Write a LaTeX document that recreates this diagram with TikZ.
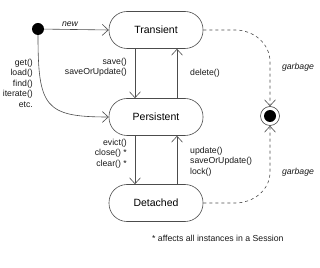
\documentclass[tikz,border=0pt]{standalone}
\usepackage{fontspec}
\setmainfont{Liberation Sans}
\usetikzlibrary{arrows.meta}
\tikzset{
  state/.style={draw=black!70,line width=0.6pt,rounded corners=18pt,minimum width=94pt,minimum height=37pt,font=\fontsize{10.5}{12}\selectfont},
  trans/.style={draw=black!70,line width=0.6pt,-{Straight Barb[length=6pt,width=11pt]}},
  garb/.style={trans,dashed},
  lbl/.style={font=\fontsize{8.7}{10.5}\selectfont,inner sep=1pt,text=black!90}
}
\begin{document}
\begin{tikzpicture}[x=1pt,y=1pt]
\useasboundingbox (0,0) rectangle (320,267);
\node[circle,fill=black,inner sep=0pt,minimum size=12pt] (init) at (38,238) {};
\node[state] (trans) at (156,237) {Transient};
\node[state] (pers) at (156,150) {Persistent};
\node[state] (det) at (156,64) {Detached};
\node[circle,draw=black!75,line width=0.6pt,minimum size=19pt,inner sep=0pt] (fin) at (270,151) {};
\node[circle,fill=black,minimum size=12pt,inner sep=0pt] at (fin) {};
\draw[trans] (init) -- (trans.west);
\draw[trans] (init.south) .. controls (38,160) and (45,150) .. (pers.west);
\draw[trans] ([xshift=-21pt]trans.south) -- ([xshift=-21pt]pers.north);
\draw[trans] ([xshift=21pt]pers.north) -- ([xshift=21pt]trans.south);
\draw[trans] ([xshift=-21pt]pers.south) -- ([xshift=-21pt]det.north);
\draw[trans] ([xshift=21pt]det.north) -- ([xshift=21pt]pers.south);
\draw[garb] (trans.east) -- (235,237) to[out=0,in=90] (270,205) -- (fin.north);
\draw[garb] (det.east) -- (235,64) to[out=0,in=-90] (270,95) -- (fin.south);
\node[lbl,font=\fontsize{8.7}{10.5}\selectfont\itshape] (lnew) at (70,243) {new};
\node[lbl,anchor=east,align=right] (lsave) at (128,199.5) {save()\\saveOrUpdate()};
\node[lbl,anchor=west] (ldel) at (189,194) {delete()};
\node[lbl,anchor=east,align=right] (lget) at (34,184) {get()\\load()\\find()\\iterate()\\etc.};
\node[lbl,anchor=east,align=right] (lev) at (128,113.5) {evict()\\close() *\\clear() *};
\node[lbl,anchor=west,align=left] (lupd) at (189,105.5) {update()\\saveOrUpdate()\\lock()};
\node[lbl,font=\fontsize{8.7}{10.5}\selectfont\itshape] (lg1) at (298,200) {garbage};
\node[lbl,font=\fontsize{8.7}{10.5}\selectfont\itshape] (lg2) at (298,95) {garbage};
\node[lbl,anchor=west] (lnote) at (151,29) {* affects all instances in a Session};
\end{tikzpicture}
\end{document}
